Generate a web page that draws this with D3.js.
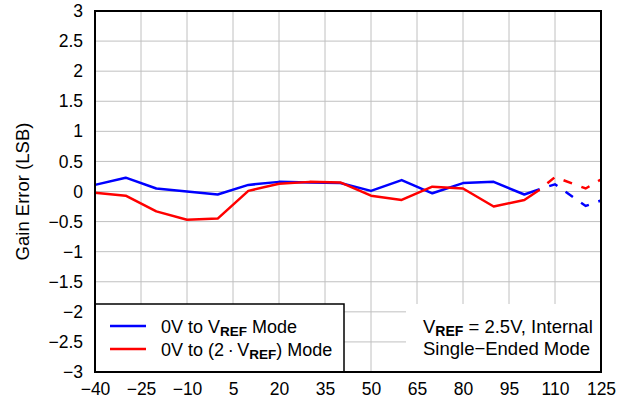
<!DOCTYPE html>
<html lang="en">
<head>
	<meta charset="UTF-8"/>
	<title>Gain Error vs Temperature</title>
	<script src="https://d3js.org/d3.v7.min.js"></script>
	<style>
		body { margin: 0; background: #fff; }
		text { font-family: "Liberation Sans", Arial, sans-serif; }
	</style>
</head>
<body>
	<script>
	var w = 628;
	var h = 408;
	var padLeft = 95, padTop = 11, padRight = 601, padBottom = 372;

	// temperatures (deg C) and gain error (LSB)
	var temps = [-40, -30, -20, -10, 0, 10, 20, 30, 40, 50, 60, 70, 80, 90, 100, 105];
	var blueVals = [0.11, 0.23, 0.05, 0.0, -0.05, 0.11, 0.16, 0.15, 0.14, 0.01, 0.19, -0.03, 0.14, 0.16, -0.05, 0.04];
	var redVals = [-0.02, -0.07, -0.33, -0.47, -0.45, 0.01, 0.13, 0.16, 0.15, -0.07, -0.14, 0.08, 0.05, -0.25, -0.14, 0.03];

	// dashed (extrapolated) part
	var tempsExt = [105, 110, 120, 125];
	var blueExt = [0.04, 0.12, -0.24, -0.15];
	var redExt = [0.03, 0.24, 0.05, 0.2];

	var xTicks = [-40, -25, -10, 5, 20, 35, 50, 65, 80, 95, 110, 125];
	var yTicks = [-3, -2.5, -2, -1.5, -1, -0.5, 0, 0.5, 1, 1.5, 2, 2.5, 3];

	var xScale = d3.scaleLinear().domain([-40, 125]).range([padLeft, padRight]);
	var yScale = d3.scaleLinear().domain([-3, 3]).range([padBottom, padTop]);

	var svg = d3.select("body")
		.append("svg")
		.attr("width", w)
		.attr("height", h);

	// grid
	svg.append("g")
		.selectAll("line")
		.data(xTicks)
		.enter()
		.append("line")
		.attr("x1", function(d) { return xScale(d); })
		.attr("x2", function(d) { return xScale(d); })
		.attr("y1", padTop)
		.attr("y2", padBottom)
		.attr("stroke", "#c0c0c0")
		.attr("stroke-width", 1);

	svg.append("g")
		.selectAll("line")
		.data(yTicks)
		.enter()
		.append("line")
		.attr("x1", padLeft)
		.attr("x2", padRight)
		.attr("y1", function(d) { return yScale(d); })
		.attr("y2", function(d) { return yScale(d); })
		.attr("stroke", "#c0c0c0")
		.attr("stroke-width", 1);

	var line = d3.line()
		.x(function(d) { return xScale(d[0]); })
		.y(function(d) { return yScale(d[1]); });

	var series = [
		{ x: temps, y: blueVals, xe: tempsExt, ye: blueExt, color: "#0000ff" },
		{ x: temps, y: redVals, xe: tempsExt, ye: redExt, color: "#ff0000" }
	];

	series.forEach(function(s) {
		svg.append("path")
			.datum(d3.zip(s.x, s.y))
			.attr("d", line)
			.attr("fill", "none")
			.attr("stroke", s.color)
			.attr("stroke-width", 2.5)
			.attr("stroke-linejoin", "round");
		svg.append("path")
			.datum(d3.zip(s.xe, s.ye))
			.attr("d", line)
			.attr("fill", "none")
			.attr("stroke", s.color)
			.attr("stroke-width", 2.5)
			.attr("stroke-dasharray", "9,10")
			.attr("stroke-dashoffset", 9);
	});

	// legend box
	svg.append("rect")
		.attr("x", padLeft)
		.attr("y", 304)
		.attr("width", 249)
		.attr("height", padBottom - 304)
		.attr("fill", "#fff")
		.attr("stroke", "#000")
		.attr("stroke-width", 1.5);

	var legend = [
		{ pre: "0V to V", sub: "REF", post: " Mode", color: "#0000ff" },
		{ pre: "0V to (2\u2009\u00b7\u2009V", sub: "REF", post: ") Mode", color: "#ff0000" }
	];

	legend.forEach(function(d, i) {
		var yy = 326 + i * 23;
		svg.append("line")
			.attr("x1", 110).attr("x2", 146)
			.attr("y1", yy).attr("y2", yy)
			.attr("stroke", d.color)
			.attr("stroke-width", 2.5);
		var t = svg.append("text")
			.attr("x", 161)
			.attr("y", yy + 6.5)
			.attr("font-size", "18px")
			.attr("fill", "#000");
		t.append("tspan").text(d.pre);
		t.append("tspan").text(d.sub)
			.attr("font-size", "13.5px")
			.attr("font-weight", "bold")
			.attr("dy", 3);
		t.append("tspan").text(d.post)
			.attr("dy", -3);
	});

	// note box
	svg.append("rect")
		.attr("x", 406)
		.attr("y", 304)
		.attr("width", padRight - 406)
		.attr("height", padBottom - 304)
		.attr("fill", "#fff");

	var note = svg.append("text")
		.attr("x", 423)
		.attr("y", 333)
		.attr("font-size", "18.5px");
	note.append("tspan").text("V");
	note.append("tspan").text("REF")
		.attr("font-size", "14px")
		.attr("font-weight", "bold")
		.attr("dy", 3);
	note.append("tspan").text(" = 2.5V, Internal")
		.attr("dy", -3);
	svg.append("text")
		.attr("x", 423)
		.attr("y", 355)
		.attr("font-size", "18.5px")
		.text("Single\u2212Ended Mode");

	// plot border
	svg.append("rect")
		.attr("x", padLeft)
		.attr("y", padTop)
		.attr("width", padRight - padLeft)
		.attr("height", padBottom - padTop)
		.attr("fill", "none")
		.attr("stroke", "#000")
		.attr("stroke-width", 2);

	// axes (labels only)
	var xAxis = d3.axisBottom(xScale)
		.tickValues(xTicks)
		.tickSize(0)
		.tickPadding(11)
		.tickFormat(d3.format("d"));
	var gx = svg.append("g")
		.attr("transform", "translate(0," + padBottom + ")")
		.call(xAxis);
	gx.select(".domain").remove();
	gx.selectAll("text")
		.attr("font-size", "17.5px")
		.attr("font-family", "Liberation Sans, Arial, sans-serif")
		.attr("fill", "#000");

	var yAxis = d3.axisLeft(yScale)
		.tickValues(yTicks)
		.tickSize(0)
		.tickPadding(12)
		.tickFormat(d3.format("~g"));
	var gy = svg.append("g")
		.attr("transform", "translate(" + padLeft + ",0)")
		.call(yAxis);
	gy.select(".domain").remove();
	gy.selectAll("text")
		.attr("font-size", "17.5px")
		.attr("font-family", "Liberation Sans, Arial, sans-serif")
		.attr("fill", "#000");

	svg.append("text")
		.attr("transform", "translate(29," + yScale(0) + ") rotate(-90)")
		.attr("text-anchor", "middle")
		.attr("font-size", "18.5px")
		.text("Gain Error (LSB)");
	</script>
</body>
</html>
